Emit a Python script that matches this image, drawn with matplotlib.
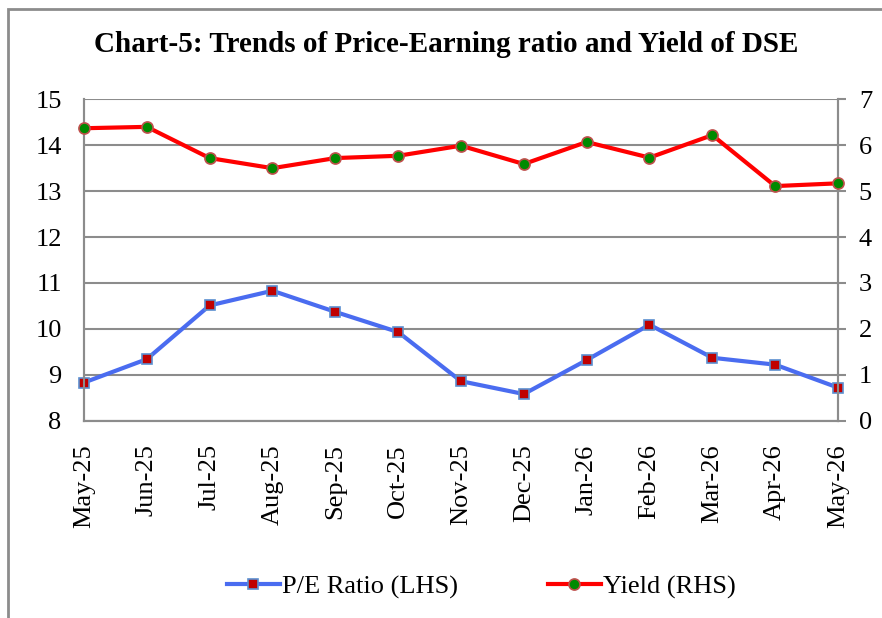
import matplotlib.pyplot as plt
from matplotlib.patches import Rectangle
from matplotlib.lines import Line2D

# 数据
months = ['May-25', 'Jun-25', 'Jul-25', 'Aug-25', 'Sep-25', 'Oct-25', 'Nov-25',
          'Dec-25', 'Jan-26', 'Feb-26', 'Mar-26', 'Apr-26', 'May-26']
pe_ratio = [8.83, 9.34, 10.51, 10.83, 10.37, 9.93, 8.86, 8.58, 9.32, 10.09, 9.37, 9.22, 8.72]
yield_pct = [6.37, 6.40, 5.72, 5.50, 5.72, 5.77, 5.99, 5.59, 6.07, 5.73, 6.22, 5.11, 5.17]

plt.rcParams['font.family'] = ['Liberation Serif', 'DejaVu Serif']

fig = plt.figure(figsize=(8.82, 6.18), dpi=100)
ax = fig.add_axes([0.0952, 0.3193, 0.8549, 0.52])
ax2 = ax.twinx()

grid_c = '#8c8c8c'
x = range(len(months))

ax.plot(x, pe_ratio, color='#4a6cf0', lw=3, marker='s', ms=7,
        mfc='#c00000', mec='#5b8fd0', mew=1.2, zorder=3, clip_on=False)
ax2.plot(x, yield_pct, color='#ff0000', lw=3, marker='o', ms=8,
         mfc='#008a00', mec='#c0504d', mew=1.2, zorder=3, clip_on=False)

ax.set_ylim(8, 15)
ax2.set_ylim(0, 7)
ax.set_xlim(0, len(months) - 1)
ax.set_yticks(range(8, 16))
ax2.set_yticks(range(0, 8))
ax.set_xticks(list(x))
ax.set_xticklabels(months, rotation=90, fontsize=19)

ax.yaxis.grid(True, color=grid_c, lw=1.5)
ax.set_axisbelow(True)
for a in (ax, ax2):
    for s in a.spines.values():
        s.set_color(grid_c)
        s.set_linewidth(1.5)
    a.spines['top'].set_visible(False)
ax.tick_params(axis='y', length=0, labelsize=19, pad=16)
ax.tick_params(axis='x', length=0, pad=17)
ax2.tick_params(axis='y', length=6, width=1.5, color=grid_c, labelsize=19, pad=9)

fig.text(0.506, 0.928, 'Chart-5: Trends of Price-Earning ratio and Yield of DSE',
         ha='center', va='center', fontsize=21, fontweight='bold')

handles = [Line2D([], [], color='#4a6cf0', lw=3, marker='s', ms=7,
                  mfc='#c00000', mec='#5b8fd0', mew=1.2),
           Line2D([], [], color='#ff0000', lw=3, marker='o', ms=8,
                  mfc='#008a00', mec='#c0504d', mew=1.2)]
fig.legend(handles, ['P/E Ratio (LHS)', 'Yield (RHS)'], loc='center',
           bbox_to_anchor=(0.546, 0.05), ncol=2, frameon=False, fontsize=19,
           handlelength=2.0, handletextpad=0.1, columnspacing=3.4)

# 外框
fig.patches.append(Rectangle((8 / 882, -0.1), 1.0, 1 - 9 / 618 + 0.1,
                             transform=fig.transFigure, fill=False,
                             edgecolor='#8c8c8c', lw=2))

fig.savefig('out.png', dpi=100)
